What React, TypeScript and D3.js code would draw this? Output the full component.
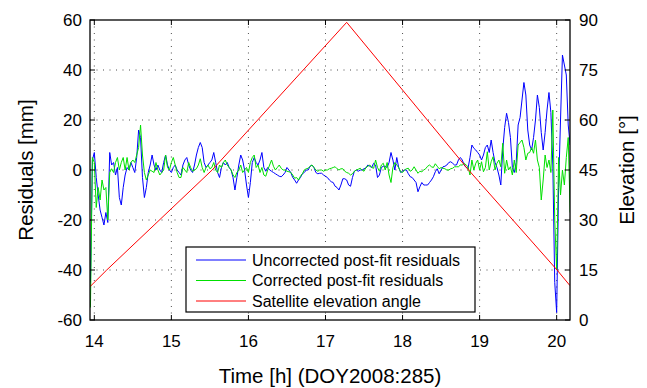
import React from "react";
import * as d3 from "d3";

// ---- data ----
const T0 = 13.95; // first sample time [h]
const DT = 0.025; // sample spacing [h]

const uncorrected = [
  -45, 4, 7, -3, -10, -16, -19, -22, -17, -21,
  7, 2, 3, -2, 1, -11, -14, -7, -2, 1,
  0, 3, 1, -1, 5, 16, 13, -3, -11, -7,
  -1, 2, 6, 2, 0, 2, 0, -1, 3, 6,
  2, 0, -1, 1, 2, 0, -1, -2, 2, 4,
  5, 2, 0, -1, 2, 6, 9, 11, 9, 3,
  1, 2, 3, 4, 7, 3, -1, -3, 1, 3,
  2, 3, 1, 0, -3, -8, -3, 2, 6, 4,
  0, -6, -11, -5, 3, 5, 3, 2, 4, 7,
  1, -0.5, 1, 0, -0.5, -1, -1.5, -2, -2.5, -2.7,
  -2, -1, 1, 0, -1, -3, -4, -5.3, -4, -3,
  -1.5, -1, 0, 0, 1.5, 2, 1, -1, -1.5, -1.3,
  -1.3, -2, -2.5, -3, -4, -4.7, -5, -6.5, -7, -8,
  -6, -3.5, -3.5, -4, -6, -6.5, -3, -0.5, 0, -0.5,
  0, 0, 0.5, 0.8, 2, 1.5, 1, 2.7, 2, -3,
  -2, 1, 1.5, 1.5, 1, 3, 7, 4, 0, 5,
  1, -1, -0.5, 0, 0, -1.5, -2.7, -3, -4, -5,
  -8.7, -6.7, -5, -6, -6, -6, -5, -4, -2.7, -0.7,
  0.5, -1.5, 0, 1.3, 1.5, 2, 3, 3.3, 2.7, 2,
  2, 4, 5, 4, 2, 1, 0.7, 5, 10, 8.7,
  8, 7, 6, 4, 6, 9, 10, 7, 12, 7,
  3, 1, -2, -6, 8, 17, 22.7, 19, 13, 1,
  -1, 3, 18, 21, 28, 35, 30, 16, 10, 8,
  13, 20, 30, 25, 15, 8, 15, 24, 31, 23,
  2, -45, -57, -7, 20, 46, 42, 38, 18, 10,
];

const corrected = [
  -55, 5, 3, -15, -7, -12, -4, -8, -7, -20,
  -1, 0.5, -1, 3, 5, 0, 3, 5, 0, 5,
  0, 3, 4, 3, 6, 9, 18, 6, -1, -4,
  -2, 0, -0.5, -1, 3, 0, -2, -1, 0, 6,
  1, 0, 3, 5, 2, -1, -3, -3, 1, 0,
  -1, 3, 1, -0.5, 0, 0.5, 2, 4.5, 1, -1,
  1, 2, 0.5, 1, 3, 0, -1, 2, 1, 3,
  4, 2, 1, 0, -2, -3, -1, 0, 2, -1,
  0, 1, -1, 3, 5, 6, 1, 2, -1, 1,
  -2, -2.5, 0, 2, 4, 1.5, 0, 1, 2, 0.7,
  0, 0, -0.5, -0.7, -1, -2, -3.3, -3, -4, -2.5,
  -1.5, 0, 0.5, 0.7, 1.5, 2, 1, 0, -0.5, 0,
  0, -0.5, 0, 0, 0.5, 0.7, 1, 1.3, 0.5, 0,
  0.5, 0.5, -0.5, -1, -1.3, -2, -1.5, -0.5, 0, 0.3,
  0.7, 0, -0.5, 1, 1.5, 2, 1, 0.7, 4, 1,
  -0.5, 2, 2.7, 0, 3, -2, -5, 1, 3, 2,
  1, -0.7, -1, 0, 0.5, 0.7, -0.5, 0, 1.3, 0,
  -1.3, -0.5, -0.7, 0, 0.5, 1.5, 2, 1.3, 1, 2.5,
  1.5, 0.5, 1, 0.7, 0.5, 0, 0, 0.5, 0.7, 1.3,
  1.3, 1.3, 2, 2, 2.7, 2, 1.3, -2, 4, 0,
  2.7, 4, 0, 3.3, -0.7, 1, 7.3, 0, 3.3, 5.3,
  0, 2.7, 4, 1.3, 10.7, -1.3, 4, 0, 1.3, -2,
  4, -1, 10, 11, 12, 9, 4, 6.7, 7, 9,
  6.7, 12, 4, 1, -12, -4, 6, 1, 4, -1,
  24, -20, -40, 5, -10, 0, -6, 5, 13, -17,
];

const elevTimes = [13.944, 14.161, 15.529, 17.275, 18.857, 20.005, 20.173];
const elevDeg = [10.0, 15, 45, 89.3, 45, 15, 10.3];

const xTicks = [14, 15, 16, 17, 18, 19, 20];
const yLeftTicks = [-60, -40, -20, 0, 20, 40, 60];
const yRightTicks = [0, 15, 30, 45, 60, 75, 90];

const legendItems = [
  { label: "Uncorrected post-fit residuals", color: "#0000ff" },
  { label: "Corrected post-fit residuals", color: "#00e000" },
  { label: "Satellite elevation angle", color: "#ff0000" },
];

// ---- layout ----
const W = 647;
const H = 388;
const L = 90, R = 570, T = 20, B = 320;
const FONT = "'Liberation Sans', Arial, Helvetica, sans-serif";

export default function App() {
  const x = d3.scaleLinear().domain([13.944, 20.173]).range([L, R]);
  const yL = d3.scaleLinear().domain([-60, 60]).range([B, T]);
  const yR = d3.scaleLinear().domain([0, 90]).range([B, T]);

  const resLine = d3
    .line<number>()
    .x((_, i) => x(T0 + DT * i))
    .y((d) => yL(d));
  const elevLine = d3
    .line<number>()
    .x((_, i) => x(elevTimes[i]))
    .y((d) => yR(d));

  const grid = { stroke: "#222", strokeWidth: 0.8, strokeDasharray: "1,5.5" };
  const tickLen = 5;

  return (
    <svg
      width={W}
      height={H}
      style={{ position: "absolute", left: 0, top: 0, background: "#fff" }}
      fontFamily={FONT}
    >
      <rect x={0} y={0} width={W} height={H} fill="#fff" />
      <defs>
        <clipPath id="plotclip">
          <rect x={L} y={T} width={R - L} height={B - T} />
        </clipPath>
      </defs>

      {/* grid */}
      {xTicks.map((t) => (
        <line key={"gx" + t} x1={x(t)} x2={x(t)} y1={T} y2={B} {...grid} />
      ))}
      {yLeftTicks.slice(1, -1).map((v) => (
        <line key={"gy" + v} x1={L} x2={R} y1={yL(v)} y2={yL(v)} {...grid} />
      ))}

      <g clipPath="url(#plotclip)" fill="none" strokeLinejoin="round">
        <path d={resLine(uncorrected) || ""} stroke="#0000ff" strokeWidth={1} />
        <path d={resLine(corrected) || ""} stroke="#00e000" strokeWidth={1} />
        <path d={elevLine(elevDeg) || ""} stroke="#ff0000" strokeWidth={1} />
      </g>

      {/* frame */}
      <rect x={L} y={T} width={R - L} height={B - T} fill="none" stroke="#000" strokeWidth={1.3} />

      {/* ticks */}
      {xTicks.map((t) => (
        <g key={"tx" + t}>
          <line x1={x(t)} x2={x(t)} y1={B} y2={B - tickLen} stroke="#000" />
          <line x1={x(t)} x2={x(t)} y1={T} y2={T + tickLen} stroke="#000" />
          <text x={x(t)} y={347} fontSize={17} textAnchor="middle" fill="#000">
            {t}
          </text>
        </g>
      ))}
      {yLeftTicks.map((v) => (
        <g key={"tl" + v}>
          <line x1={L} x2={L + tickLen} y1={yL(v)} y2={yL(v)} stroke="#000" />
          <text x={82} y={yL(v)} dy="0.36em" fontSize={17} textAnchor="end" fill="#000">
            {v}
          </text>
        </g>
      ))}
      {yRightTicks.map((v) => (
        <g key={"tr" + v}>
          <line x1={R} x2={R - tickLen} y1={yR(v)} y2={yR(v)} stroke="#000" />
          <text x={579} y={yR(v)} dy="0.36em" fontSize={17} textAnchor="start" fill="#000">
            {v}
          </text>
        </g>
      ))}

      {/* axis titles */}
      <text
        transform={`translate(33, ${(T + B) / 2}) rotate(-90)`}
        fontSize={20.5}
        textAnchor="middle"
        fill="#000"
      >
        Residuals [mm]
      </text>
      <text
        transform={`translate(634, ${(T + B) / 2}) rotate(-90)`}
        fontSize={20.5}
        textAnchor="middle"
        fill="#000"
      >
        Elevation [°]
      </text>
      <text x={(L + R) / 2} y={383} fontSize={20.5} textAnchor="middle" fill="#000">
        Time [h] (DOY2008:285)
      </text>

      {/* legend */}
      <g>
        <rect x={186} y={247} width={289} height={65} fill="#fff" stroke="#000" strokeWidth={1.2} />
        {legendItems.map((it, i) => {
          const cy = 260 + i * 20.5;
          return (
            <g key={it.label}>
              <line x1={196} x2={246} y1={cy} y2={cy} stroke={it.color} strokeWidth={1} />
              <text x={252} y={cy} dy="0.36em" fontSize={16} fill="#000">
                {it.label}
              </text>
            </g>
          );
        })}
      </g>
    </svg>
  );
}
